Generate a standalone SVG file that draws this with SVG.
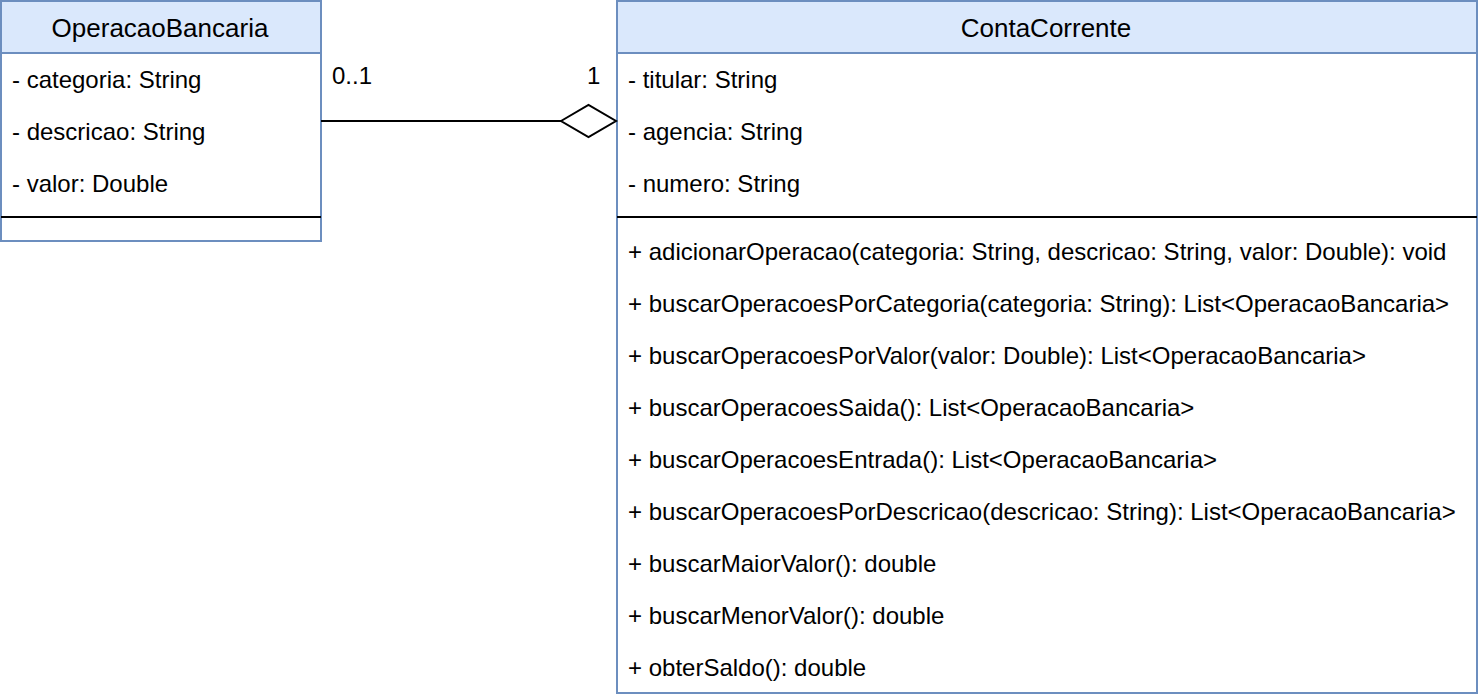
<svg xmlns="http://www.w3.org/2000/svg" width="1478" height="700" viewBox="0 0 1478 700">
<style>
.box{fill:#ffffff;stroke:#6c8ebf;stroke-width:2}
.hdr{fill:#dae8fc;stroke:#6c8ebf;stroke-width:2}
.sep{stroke:#000000;stroke-width:2}
text{font-family:"Liberation Sans",Arial,sans-serif;font-size:24px;fill:#000000}
.t{text-anchor:middle;font-size:26px}
.edge{stroke:#000000;stroke-width:2;fill:none}
</style>
<rect width="1478" height="700" fill="#ffffff"/>
<g id="OperacaoBancaria">
<rect class="box" x="1" y="1" width="320" height="240"/>
<rect class="hdr" x="1" y="1" width="320" height="52"/>
<text class="t" x="160" y="37">OperacaoBancaria</text>
<text x="12" y="88">- categoria: String</text>
<text x="12" y="140">- descricao: String</text>
<text x="12" y="192">- valor: Double</text>
<line class="sep" x1="1" y1="217" x2="321" y2="217"/>
</g>
<g id="ContaCorrente">
<rect class="box" x="617" y="1" width="860" height="692"/>
<rect class="hdr" x="617" y="1" width="860" height="52"/>
<text class="t" x="1046" y="37">ContaCorrente</text>
<text x="628" y="88">- titular: String</text>
<text x="628" y="140">- agencia: String</text>
<text x="628" y="192">- numero: String</text>
<line class="sep" x1="617" y1="217" x2="1477" y2="217"/>
<text x="628" y="260">+ adicionarOperacao(categoria: String, descricao: String, valor: Double): void</text>
<text x="628" y="312">+ buscarOperacoesPorCategoria(categoria: String): List&lt;OperacaoBancaria&gt;</text>
<text x="628" y="364">+ buscarOperacoesPorValor(valor: Double): List&lt;OperacaoBancaria&gt;</text>
<text x="628" y="416">+ buscarOperacoesSaida(): List&lt;OperacaoBancaria&gt;</text>
<text x="628" y="468">+ buscarOperacoesEntrada(): List&lt;OperacaoBancaria&gt;</text>
<text x="628" y="520">+ buscarOperacoesPorDescricao(descricao: String): List&lt;OperacaoBancaria&gt;</text>
<text x="628" y="572">+ buscarMaiorValor(): double</text>
<text x="628" y="624">+ buscarMenorValor(): double</text>
<text x="628" y="676">+ obterSaldo(): double</text>
</g>
<g id="connectors">
<line class="edge" x1="321" y1="121" x2="561" y2="121"/>
<polygon class="edge" style="fill:#ffffff" points="561,121 588.5,105 616,121 588.5,137"/>
<text x="332" y="84">0..1</text>
<text x="587" y="84">1</text>
</g>
</svg>
